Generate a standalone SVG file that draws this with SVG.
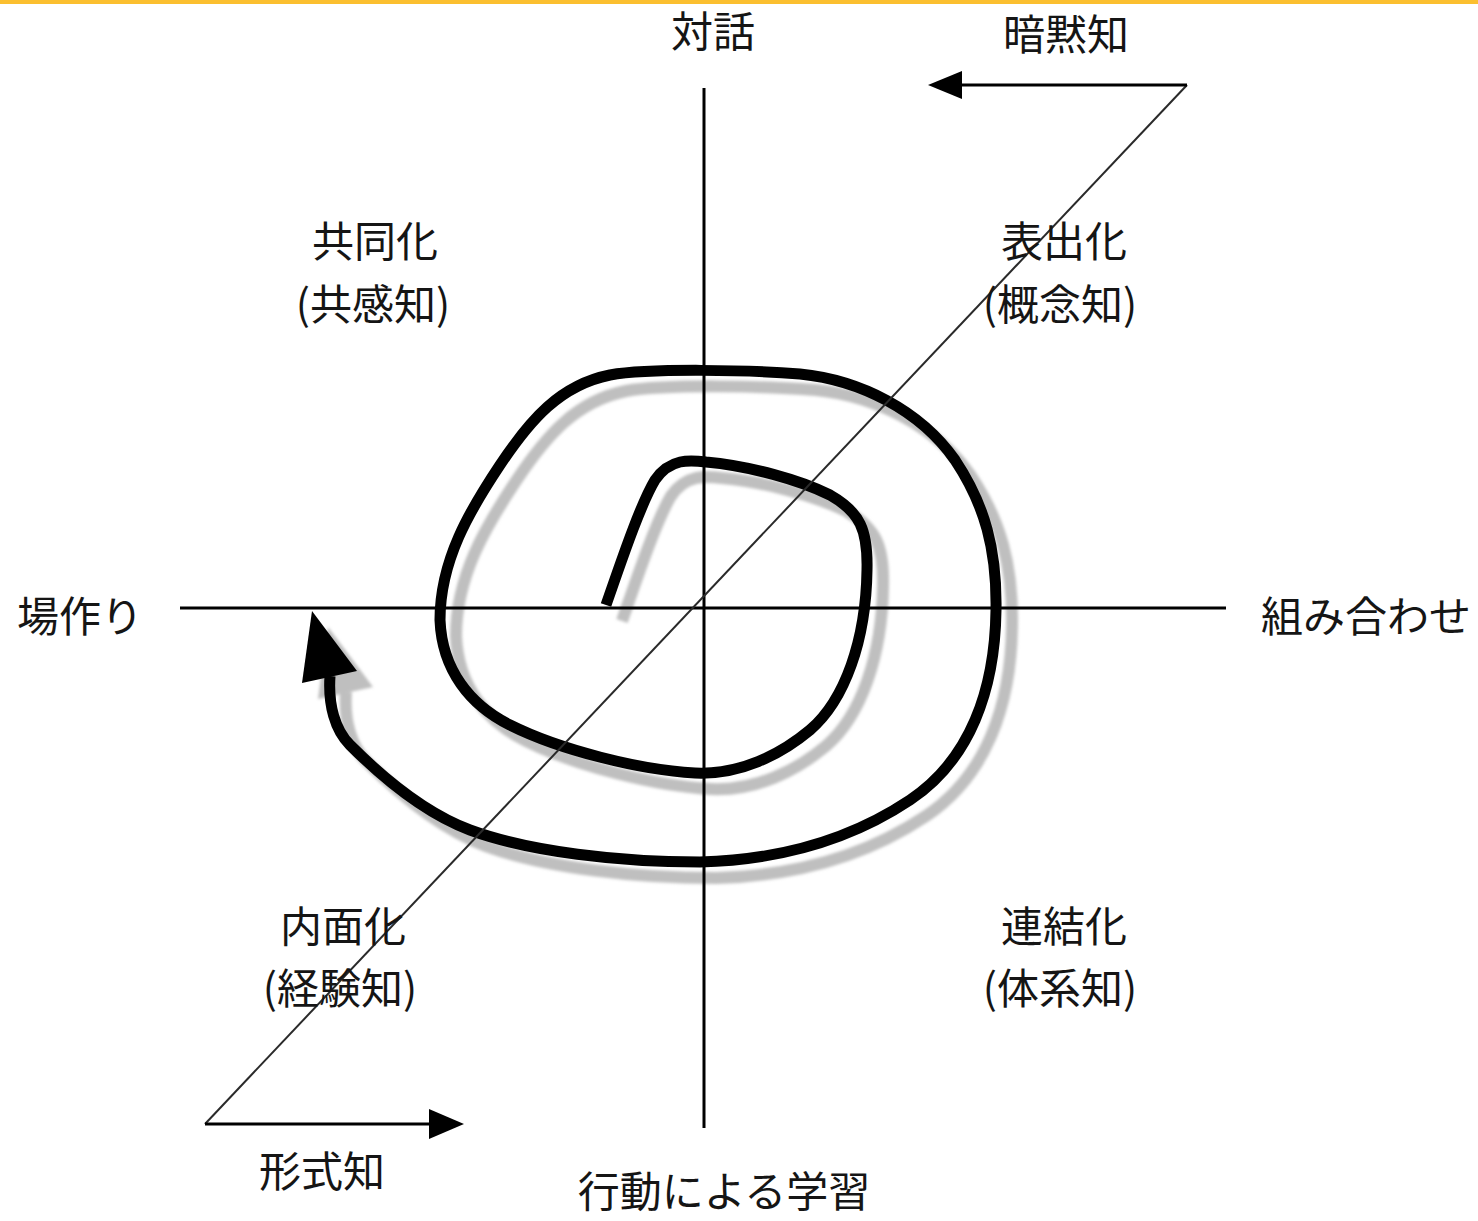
<svg xmlns="http://www.w3.org/2000/svg" width="1478" height="1221" viewBox="0 0 1478 1221">
<style>
.lbl{font-family:"Noto Sans CJK JP","Noto Sans CJK SC",sans-serif;font-size:42px;fill:#151515;text-anchor:middle}
.axis{stroke:#000;stroke-width:3;fill:none}
.diag{stroke:#2a2a2a;stroke-width:2;fill:none}
.sp{fill:none;stroke:#000;stroke-width:11;stroke-linejoin:round}
.sh{fill:none;stroke:#bfbfbf;stroke-width:12;stroke-linejoin:round}
</style>
<defs>
<filter id="blur" x="-10%" y="-10%" width="120%" height="120%"><feGaussianBlur stdDeviation="1.8"/></filter>
<path id="spiral" d="M606,605 C620,565 640,505 655,480 C670,458 690,460 706,462 C750,466 800,480 830,495 C860,512 868,530 867,570 C866,640 845,700 810,730 C780,755 740,775 695,773 C640,770 560,750 510,725 C470,705 442,670 440,620 C440,560 470,510 500,465 C530,420 560,385 610,375 C650,368 750,370 800,374 C860,380 920,410 955,460 C985,505 997,550 996,610 C995,690 970,760 910,800 C850,840 780,860 700,862 C620,862 530,852 470,830 C430,815 390,785 350,745 C335,730 328,705 330,676"/>
</defs>
<rect x="0" y="0" width="1478" height="1221" fill="#fff"/>
<rect x="0" y="0" width="1478" height="4" fill="#fbbf2f"/>
<g id="spiral-shadow" transform="translate(16,16)" filter="url(#blur)">
<use href="#spiral" class="sh"/>
<polygon points="312,611 302,683 357,671" fill="#bfbfbf"/>
</g>
<g id="spiral-main">
<use href="#spiral" class="sp"/>
<polygon points="312,611 302,683 357,671" fill="#000"/>
</g>
<g id="connectors">
<line class="axis" x1="180" y1="608" x2="1226" y2="608"/>
<line class="axis" x1="704" y1="88" x2="704" y2="1128"/>
<line class="diag" x1="205" y1="1124" x2="1187" y2="85"/>
<line class="axis" x1="1187" y1="85" x2="960" y2="85"/>
<polygon points="928,85 962,71 962,99" fill="#000"/>
<line class="axis" x1="205" y1="1124" x2="432" y2="1124"/>
<polygon points="464,1124 429,1109 429,1139" fill="#000"/>
</g>
<g id="n-taiwa"><text class="lbl" x="713" y="47">対話</text></g>
<g id="n-anmokuchi"><text class="lbl" x="1066" y="50">暗黙知</text></g>
<g id="n-kyodoka"><text class="lbl" x="375" y="257">共同化</text><text class="lbl" x="373" y="320">(共感知)</text></g>
<g id="n-hyoshutsuka"><text class="lbl" x="1064" y="257">表出化</text><text class="lbl" x="1060" y="320">(概念知)</text></g>
<g id="n-bazukuri"><text class="lbl" x="80" y="632">場作り</text></g>
<g id="n-kumiawase"><text class="lbl" x="1366" y="632">組み合わせ</text></g>
<g id="n-naimenka"><text class="lbl" x="343" y="942">内面化</text><text class="lbl" x="340" y="1004">(経験知)</text></g>
<g id="n-renketsuka"><text class="lbl" x="1064" y="942">連結化</text><text class="lbl" x="1060" y="1004">(体系知)</text></g>
<g id="n-keishikichi"><text class="lbl" x="322" y="1187">形式知</text></g>
<g id="n-kodo"><text class="lbl" x="724" y="1207">行動による学習</text></g>
</svg>
